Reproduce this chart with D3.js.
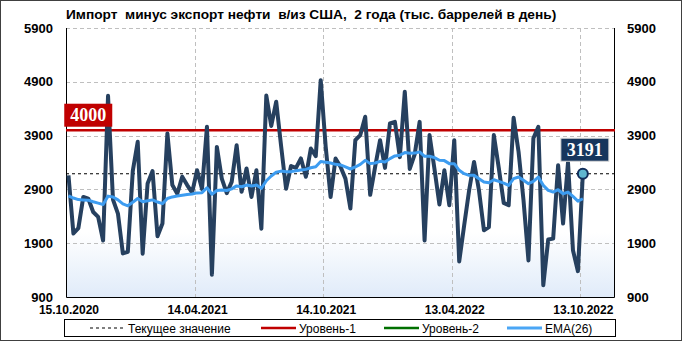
<!DOCTYPE html>
<html>
<head>
<meta charset="utf-8">
<script src="https://cdn.jsdelivr.net/npm/d3@7"></script>
<style>
body { margin: 0; background: #fff; }
svg text { font-family: "Liberation Sans", Arial, sans-serif; }
</style>
</head>
<body>
<div class="chart"></div>
<script>
var svgWidth = 682;
var svgHeight = 341;

var margin = { top: 28, right: 67, bottom: 44, left: 66 };
var width = svgWidth - margin.left - margin.right;
var height = svgHeight - margin.top - margin.bottom;

var title = "Импорт  минус экспорт нефти  в/из США,  2 года (тыс. баррелей в день)";

// weekly values, 15.10.2020 .. 13.10.2022
var values = [
  3160, 2080, 2180, 2760, 2730, 2480, 2390, 1950, 4640, 2710,
  2450, 1710, 1740, 3240, 3785, 1705, 3010, 3240, 2030, 2265,
  3940, 2980, 2820, 3135, 2980, 2840, 3255, 2910, 4065, 1315,
  3690, 3100, 2830, 3040, 3720, 2855, 3290, 2760, 3255, 2170,
  4645, 4080, 4530, 3700, 2910, 3335, 3300, 3475, 3135, 3660,
  3520, 4930, 3700, 2760, 3475, 3320, 3100, 2545, 3815, 3910,
  4250, 2800, 3320, 3815, 3300, 4125, 4155, 3500, 4715, 3280,
  3550, 4155, 1950, 3910, 3280, 2620, 3255, 2605, 3815, 1560,
  2230, 2880, 3410, 2880, 2140, 2200, 3910, 3300, 2650, 2605,
  4230, 3600, 2700, 1580, 3850, 4065, 1120, 1970, 1985, 3350,
  2265, 3400, 1770, 1380, 3191
];

var ema = [
  2780, 2740, 2710, 2705, 2700, 2670, 2645, 2620, 2775, 2760,
  2705, 2630, 2595, 2660, 2730, 2670, 2690, 2705, 2665, 2635,
  2730, 2760, 2776, 2790, 2805, 2815, 2835, 2840, 2930, 2810,
  2880, 2890, 2880, 2910, 2965, 2950, 2980, 2962, 2980, 2920,
  3060, 3150, 3220, 3240, 3230, 3230, 3247, 3260, 3272, 3303,
  3322, 3420, 3405, 3391, 3366, 3354, 3317, 3279, 3317, 3366,
  3441, 3379, 3391, 3422, 3410, 3472, 3522, 3534, 3584, 3570,
  3575, 3597, 3516, 3516, 3491, 3441, 3435, 3379, 3379, 3255,
  3192, 3161, 3161, 3099, 3037, 3024, 3080, 3049, 3018, 2975,
  3099, 3130, 3068, 3006, 3049, 3130, 2975, 2881, 2850, 2894,
  2819, 2850, 2769, 2682, 2726
];

var tickIndex = [0, 26, 52, 78, 104];
var tickLabels = ["15.10.2020", "14.04.2021", "14.10.2021", "13.04.2022", "13.10.2022"];
var yTicks = [900, 1900, 2900, 3900, 4900, 5900];
var currentValue = 3191;
var level1 = 4000;
var slots = 111;

var svg = d3.select(".chart")
  .append("svg")
  .attr("width", svgWidth)
  .attr("height", svgHeight);

var defs = svg.append("defs");
var grad = defs.append("linearGradient")
  .attr("id", "plotBg")
  .attr("x1", 0).attr("y1", 0).attr("x2", 0).attr("y2", 1);
grad.append("stop").attr("offset", "0%").attr("stop-color", "#ffffff");
grad.append("stop").attr("offset", "76%").attr("stop-color", "#ffffff");
grad.append("stop").attr("offset", "100%").attr("stop-color", "#e0ebf9");

// outer frame
svg.append("rect")
  .attr("x", 0.5).attr("y", 0.5)
  .attr("width", svgWidth - 1).attr("height", svgHeight - 1)
  .attr("fill", "#fff")
  .attr("stroke", "#404040");

svg.append("text")
  .attr("x", 66)
  .attr("y", 19)
  .style("white-space", "pre")
  .style("font-weight", "bold")
  .style("font-size", "13.7px")
  .text(title);

var chartGroup = svg.append("g")
  .attr("transform", `translate(${margin.left}, ${margin.top})`);

var x = d3.scaleLinear().domain([0, slots]).range([0, width]);
var y = d3.scaleLinear().domain([900, 5900]).range([height, 0]);

chartGroup.append("rect")
  .attr("width", width)
  .attr("height", height)
  .attr("fill", "url(#plotBg)");

// grid
chartGroup.selectAll(".hgrid")
  .data(yTicks.filter(d => d > 900))
  .enter()
  .append("line")
  .attr("x1", 0).attr("x2", width)
  .attr("y1", d => Math.round(y(d)) + 0.5)
  .attr("y2", d => Math.round(y(d)) + 0.5)
  .attr("stroke", "#bfbfbf")
  .attr("stroke-dasharray", "4,3");

chartGroup.selectAll(".vgrid")
  .data(tickIndex.slice(1))
  .enter()
  .append("line")
  .attr("x1", d => Math.round(x(d)) + 0.5)
  .attr("x2", d => Math.round(x(d)) + 0.5)
  .attr("y1", 0).attr("y2", height)
  .attr("stroke", "#bfbfbf")
  .attr("stroke-dasharray", "4,3");

// frame left / right / bottom
chartGroup.append("path")
  .attr("d", `M0.5,0 V${height + 0.5} H${width - 0.5} V0`)
  .attr("fill", "none")
  .attr("stroke", "#000");

// axes
var leftAxis = d3.axisLeft(y).tickValues(yTicks).tickFormat(d3.format("d")).tickSize(0).tickPadding(13);
var rightAxis = d3.axisRight(y).tickValues(yTicks).tickFormat(d3.format("d")).tickSize(0).tickPadding(12);
var bottomAxis = d3.axisBottom(x)
  .tickValues(tickIndex.map(d => d + 0.5))
  .tickFormat((d, i) => tickLabels[i])
  .tickSize(0).tickPadding(8);

var yAxisL = chartGroup.append("g").call(leftAxis);
var yAxisR = chartGroup.append("g").attr("transform", `translate(${width}, 0)`).call(rightAxis);
var xAxis = chartGroup.append("g").attr("transform", `translate(0, ${height})`).call(bottomAxis);

[yAxisL, yAxisR, xAxis].forEach(function (g) {
  g.select(".domain").remove();
  g.selectAll("text")
    .style("font-family", "'Liberation Sans', Arial, sans-serif")
    .style("font-weight", "bold")
    .style("font-size", "13px")
    .attr("fill", "#000");
});
xAxis.selectAll("text").style("font-size", "12px");

// reference lines
chartGroup.append("line")
  .attr("x1", 0).attr("x2", width)
  .attr("y1", y(level1)).attr("y2", y(level1))
  .attr("stroke", "#c00000")
  .attr("stroke-width", 2.5);

chartGroup.append("line")
  .attr("x1", 0).attr("x2", width)
  .attr("y1", y(currentValue)).attr("y2", y(currentValue))
  .attr("stroke", "#000")
  .attr("stroke-width", 1.2)
  .attr("stroke-dasharray", "3,3");

var line = d3.line()
  .x((d, i) => x(i + 0.5))
  .y(d => y(d));

chartGroup.append("path")
  .datum(values)
  .attr("d", line)
  .attr("fill", "none")
  .attr("stroke", "#26405f")
  .attr("stroke-width", 4)
  .attr("stroke-linejoin", "round");

chartGroup.append("path")
  .datum(ema)
  .attr("d", line)
  .attr("fill", "none")
  .attr("stroke", "#3d9cf0")
  .attr("stroke-width", 3)
  .attr("stroke-linejoin", "round");

var last = values.length - 1;
chartGroup.append("circle")
  .attr("cx", x(last + 0.5))
  .attr("cy", y(values[last]))
  .attr("r", 5)
  .attr("fill", "#5fb6cf")
  .attr("stroke", "#112d5a")
  .attr("stroke-width", 2);

// value boxes
function valueBox(cx, cy, txt, fill, stroke) {
  var g = chartGroup.append("g");
  g.append("rect")
    .attr("x", cx - 24).attr("y", cy - 11.5)
    .attr("width", 48).attr("height", 23)
    .attr("fill", fill)
    .attr("stroke", stroke);
  g.append("text")
    .attr("x", cx).attr("y", cy + 6)
    .attr("text-anchor", "middle")
    .attr("fill", "#fff")
    .style("font-family", "'Liberation Serif', 'DejaVu Serif', serif")
    .style("font-weight", "bold")
    .style("font-size", "18px")
    .text(txt);
}
valueBox(x(4.5), y(level1) - 15, String(level1), "#c00000", "none");
valueBox(x(last + 0.5) + 2, y(currentValue) - 24, String(currentValue), "#17365d", "#d9d9d9");

// legend
var legend = svg.append("g");
legend.append("rect")
  .attr("x", 64.5).attr("y", 319.5)
  .attr("width", 551).attr("height", 17)
  .attr("fill", "#fff")
  .attr("stroke", "#000");

var legendItems = [
  { label: "Текущее значение", x: 90, color: "#000", w: 1.2, dash: "3,3" },
  { label: "Уровень-1", x: 261, color: "#c00000", w: 2.5, dash: null },
  { label: "Уровень-2", x: 384, color: "#007000", w: 2.5, dash: null },
  { label: "EMA(26)", x: 507, color: "#4aa6f5", w: 3, dash: null }
];
legendItems.forEach(function (d) {
  legend.append("line")
    .attr("x1", d.x).attr("x2", d.x + 35)
    .attr("y1", 328).attr("y2", 328)
    .attr("stroke", d.color)
    .attr("stroke-width", d.w)
    .attr("stroke-dasharray", d.dash);
  legend.append("text")
    .attr("x", d.x + 38).attr("y", 332.5)
    .style("font-size", "12px")
    .text(d.label);
});
</script>
</body>
</html>
